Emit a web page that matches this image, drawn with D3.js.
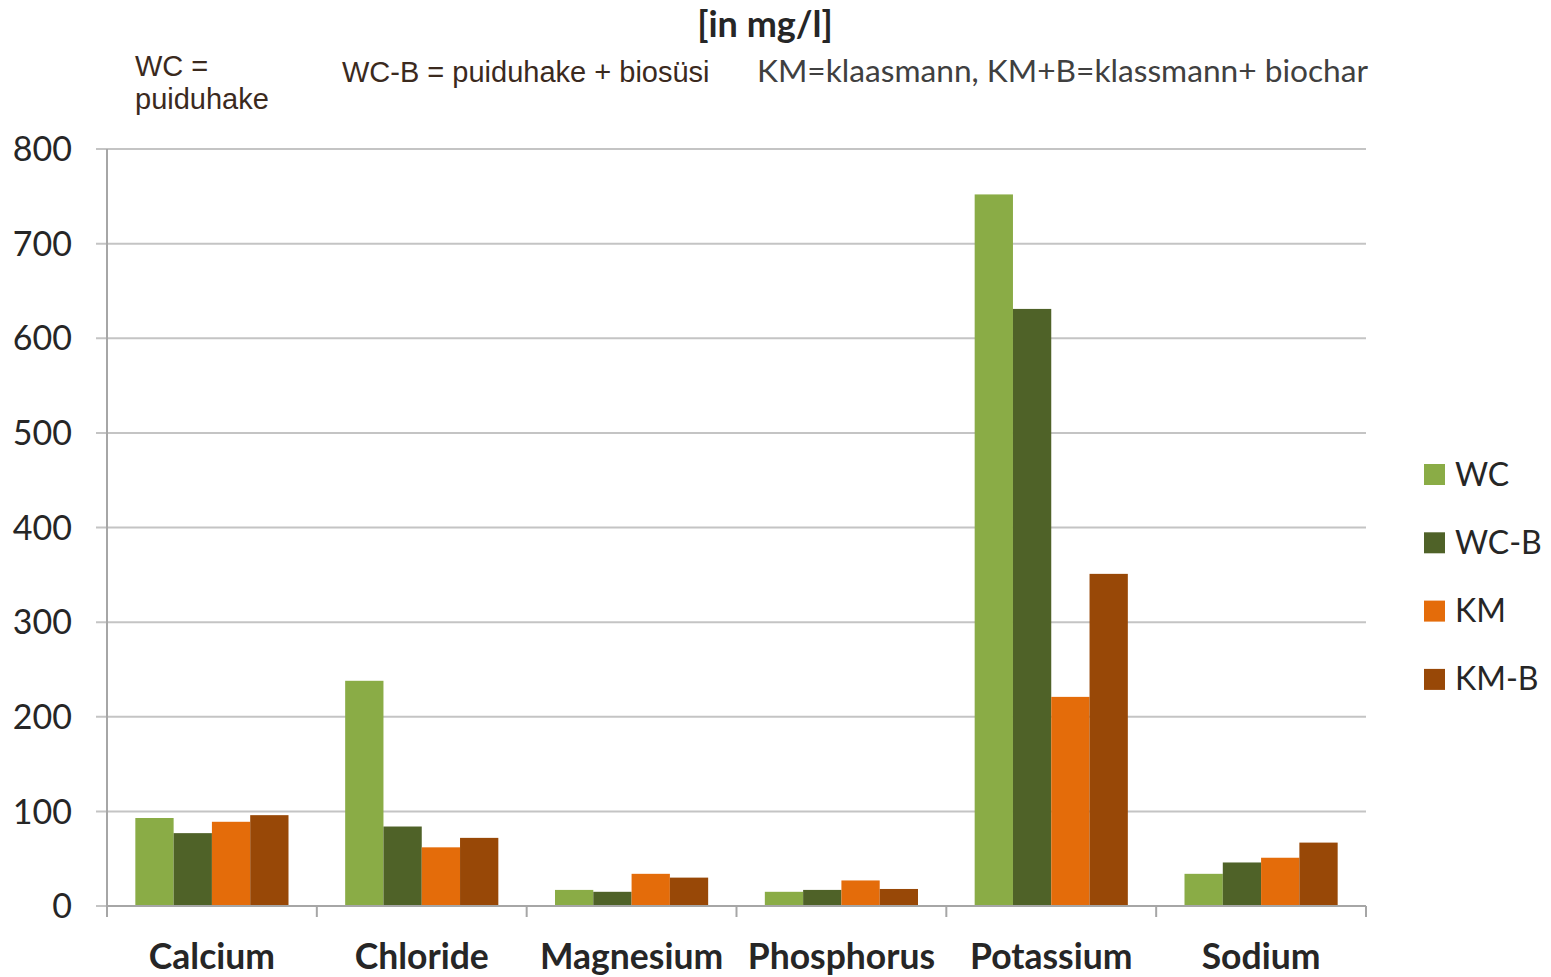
<!DOCTYPE html>
<html>
<head>
<meta charset="utf-8">
<script src="https://cdn.jsdelivr.net/npm/d3@7"></script>
<style>
  html, body { margin: 0; padding: 0; background: #fff; }
  svg { display: block; }
</style>
</head>
<body>
<svg id="chart" width="1551" height="977"></svg>
<script>
// Nutrient concentrations per growing medium, mg/l
const categories = ["Calcium", "Chloride", "Magnesium", "Phosphorus", "Potassium", "Sodium"];
const seriesNames = ["WC", "WC-B", "KM", "KM-B"];
const seriesColors = ["#8aac46", "#4f6228", "#e46c0a", "#984807"];
const valuesWC   = [93, 238, 17, 15, 752, 34];
const valuesWCB  = [77, 84, 15, 17, 631, 46];
const valuesKM   = [89, 62, 34, 27, 221, 51];
const valuesKMB  = [96, 72, 30, 18, 351, 67];
const yTicks = [0, 100, 200, 300, 400, 500, 600, 700, 800];

const seriesValues = [valuesWC, valuesWCB, valuesKM, valuesKMB];

const svg = d3.select("#chart");
const plot = { left: 107, right: 1366, top: 149, bottom: 906 };

const x0 = d3.scaleBand().domain(categories).range([plot.left, plot.right]).paddingInner(0).paddingOuter(0);
const x1 = d3.scaleBand().domain(seriesNames).range([0, x0.bandwidth()]).paddingInner(0).paddingOuter(0.74);
const y = d3.scaleLinear().domain([0, 800]).range([plot.bottom, plot.top]);

const labelFont = "Lato, 'Open Sans', sans-serif";
const noteFont = "'Liberation Sans', Arial, sans-serif";

// Horizontal gridlines
svg.append("g")
  .selectAll("line")
  .data(yTicks)
  .join("line")
  .attr("x1", plot.left - 11)
  .attr("x2", plot.right)
  .attr("y1", d => y(d))
  .attr("y2", d => y(d))
  .attr("stroke", "#c4c4c4")
  .attr("stroke-width", 2);

// Bars
const groups = svg.append("g")
  .selectAll("g")
  .data(categories)
  .join("g")
  .attr("transform", d => `translate(${x0(d)},0)`);

groups.selectAll("rect")
  .data((c, i) => seriesNames.map((s, k) => ({ s, k, v: seriesValues[k][i] })))
  .join("rect")
  .attr("x", d => x1(d.s))
  .attr("width", x1.bandwidth())
  .attr("y", d => y(d.v))
  .attr("height", d => y(0) - y(d.v))
  .attr("fill", d => seriesColors[d.k]);

// Y axis line
svg.append("line")
  .attr("x1", plot.left).attr("x2", plot.left)
  .attr("y1", plot.top).attr("y2", plot.bottom + 11)
  .attr("stroke", "#a6a6a6").attr("stroke-width", 2);

// Baseline and category separators
svg.append("line")
  .attr("x1", plot.left).attr("x2", plot.right)
  .attr("y1", y(0)).attr("y2", y(0))
  .attr("stroke", "#a6a6a6").attr("stroke-width", 2);

const sepX = categories.map(c => x0(c)).concat([plot.right]);
svg.append("g")
  .selectAll("line")
  .data(sepX)
  .join("line")
  .attr("x1", d => d).attr("x2", d => d)
  .attr("y1", y(0)).attr("y2", y(0) + 11)
  .attr("stroke", "#a6a6a6").attr("stroke-width", 2);

// Y tick labels
svg.append("g")
  .selectAll("text")
  .data(yTicks)
  .join("text")
  .attr("x", 72)
  .attr("y", d => y(d))
  .attr("dy", "0.36em")
  .attr("text-anchor", "end")
  .attr("font-family", labelFont)
  .attr("font-size", 34)
  .attr("fill", "#262626")
  .text(d => d);

// Category labels
svg.append("g")
  .selectAll("text")
  .data(categories)
  .join("text")
  .attr("x", d => x0(d) + x0.bandwidth() / 2)
  .attr("y", 969)
  .attr("text-anchor", "middle")
  .attr("font-family", labelFont)
  .attr("font-weight", "bold")
  .attr("font-size", 35.5)
  .attr("fill", "#262626")
  .text(d => d);

// Title
svg.append("text")
  .attr("x", 765).attr("y", 37)
  .attr("text-anchor", "middle")
  .attr("font-family", labelFont)
  .attr("font-weight", "bold")
  .attr("font-size", 36)
  .attr("fill", "#262626")
  .text("[in mg/l]");

// Abbreviation notes
svg.append("text").attr("x", 135).attr("y", 76)
  .attr("font-family", noteFont).attr("font-size", 29).attr("fill", "#3b2a1e")
  .text("WC =");
svg.append("text").attr("x", 135).attr("y", 109)
  .attr("font-family", noteFont).attr("font-size", 29).attr("fill", "#3b2a1e")
  .text("puiduhake");
svg.append("text").attr("x", 342).attr("y", 82)
  .attr("font-family", noteFont).attr("font-size", 29).attr("fill", "#3b2a1e")
  .text("WC-B = puiduhake + biosüsi");
svg.append("text").attr("x", 757).attr("y", 82)
  .attr("font-family", labelFont).attr("font-size", 30).attr("fill", "#404040")
  .attr("textLength", 611).attr("lengthAdjust", "spacingAndGlyphs")
  .text("KM=klaasmann, KM+B=klassmann+ biochar");

// Legend
const legend = svg.append("g")
  .selectAll("g")
  .data(seriesNames)
  .join("g")
  .attr("transform", (d, i) => `translate(1424, ${474 + i * 68.3})`);
legend.append("rect")
  .attr("x", 0).attr("y", -10).attr("width", 21).attr("height", 21)
  .attr("fill", (d, i) => seriesColors[i]);
legend.append("text")
  .attr("x", 31).attr("y", 0).attr("dy", "0.36em")
  .attr("font-family", labelFont)
  .attr("font-size", 32)
  .attr("fill", "#262626")
  .text(d => d);
</script>
</body>
</html>
